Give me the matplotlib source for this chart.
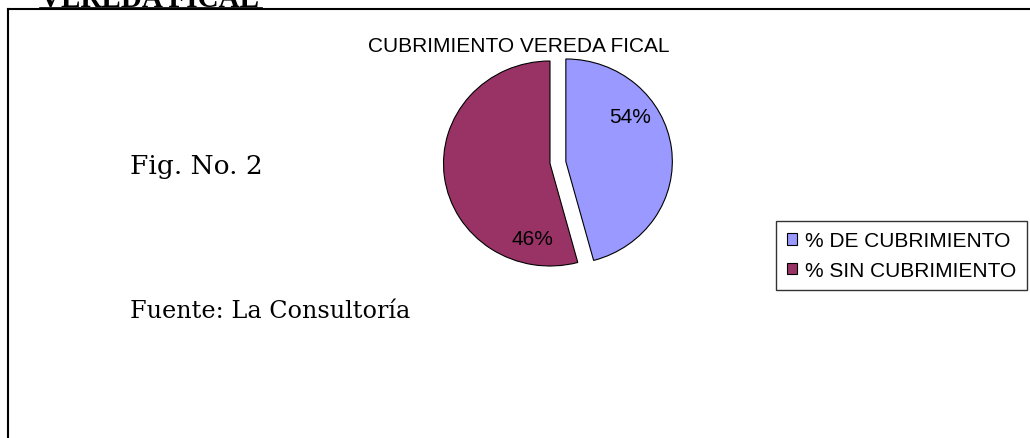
import matplotlib
matplotlib.use("Agg")
import matplotlib.pyplot as plt
from matplotlib.lines import Line2D

# ---- data ----
categories = ["% DE CUBRIMIENTO", "% SIN CUBRIMIENTO"]
shares = [45.8, 54.2]              # slice sizes as drawn
pct_labels = ["54%", "46%"]        # labels as printed on the chart
colors = ["#9999FF", "#993366"]
chart_title = "CUBRIMIENTO VEREDA FICAL"
page_heading = "VEREDA FICAL"
fig_caption = "Fig. No. 2"
source_text = "Fuente: La Consultoría"

W, H = 1030, 439
fig = plt.figure(figsize=(W / 100, H / 100), dpi=100)

def fx(px):
    return px / W

def fy(py):
    return 1 - py / H

# frame (left and top lines)
fig.add_artist(Line2D([fx(8), fx(8)], [fy(10), 0], color="black", lw=1.5))
fig.add_artist(Line2D([fx(8), 1], [fy(10), fy(10)], color="black", lw=1.5))

# clipped page heading with underline
fig.text(fx(40), fy(7), page_heading, family="Liberation Serif", weight="bold",
         fontsize=21, ha="left", va="baseline")
fig.add_artist(Line2D([fx(40), fx(262)], [fy(9), fy(9)], color="black", lw=1.2))

# chart title
fig.text(fx(519), fy(46), chart_title, family="Liberation Sans", fontsize=15,
         ha="center", va="center")

# side texts
fig.text(fx(130), fy(167), fig_caption, family="DejaVu Serif", fontsize=19,
         ha="left", va="center")
fig.text(fx(130), fy(312), source_text, family="DejaVu Serif", fontsize=17.2,
         ha="left", va="center")

# pie axes (slightly elliptical as in the reference)
RX, RY = 106.5, 102.5
cx, cy = 550, 164.5
L = 1.4
ax = fig.add_axes([fx(cx - L * RX), fy(cy + L * RY), 2 * L * RX / W, 2 * L * RY / H])
ax.axis("off")
wedges, _ = ax.pie(shares, colors=colors, startangle=90, counterclock=False,
                   explode=[0.15, 0.0], radius=1.0,
                   wedgeprops=dict(edgecolor="black", linewidth=0.8))
ax.set_aspect("auto")
ax.set_xlim(-L, L)
ax.set_ylim(-L, L)

# percentage labels
label_pos = [(630, 118), (532, 240)]
for w, lab, (px, py) in zip(wedges, pct_labels, label_pos):
    fig.text(fx(px), fy(py), lab, family="Liberation Sans", fontsize=15,
             ha="center", va="center")

leg = fig.legend(wedges, categories, loc="upper right",
                 bbox_to_anchor=(fx(1027), fy(222)),
                 prop=dict(family="Liberation Sans", size=15),
                 frameon=True, fancybox=False, edgecolor="black",
                 handlelength=0.5, handleheight=0.5, handletextpad=0.4,
                 labelspacing=0.5, borderpad=0.5, borderaxespad=0)
leg.get_frame().set_linewidth(1.0)

fig.savefig("out.png", dpi=100)
